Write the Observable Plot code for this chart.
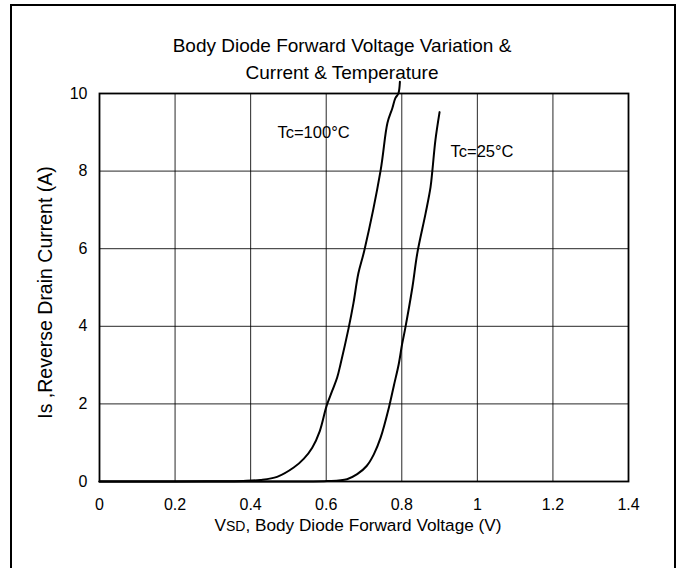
<!DOCTYPE html>
<html>
<head>
<meta charset="utf-8">
<script src="https://cdn.jsdelivr.net/npm/d3@7"></script>
<script src="https://cdn.jsdelivr.net/npm/@observablehq/plot@0.6"></script>
<style>
  html, body { margin: 0; padding: 0; background: #fff; overflow: hidden; }
  #wrap { position: relative; width: 682px; height: 568px; }
  #border { position: absolute; left: 10px; top: 4px; width: 666px; height: 620px; border: 2px solid #000; box-sizing: border-box; pointer-events: none; }
  #chart { position: absolute; left: 0; top: 0; }
</style>
</head>
<body>
<div id="wrap"><div id="chart"></div><div id="border"></div></div>
<script>
// Tc = 100°C curve
const vsd100 = [0, 0.2, 0.3, 0.38, 0.426, 0.47, 0.514, 0.541, 0.563, 0.583, 0.601, 0.616, 0.629, 0.638, 0.659, 0.672, 0.685, 0.701, 0.744, 0.762, 0.775, 0.783, 0.791, 0.795];
const is100  = [0, 0, 0.005, 0.015, 0.04, 0.12, 0.36, 0.59, 0.87, 1.30, 1.95, 2.34, 2.68, 3.03, 3.94, 4.59, 5.36, 5.96, 8.02, 9.24, 9.62, 9.88, 10.0, 10.3];
// Tc = 25°C curve
const vsd25 = [0, 0.3, 0.55, 0.602, 0.655, 0.682, 0.707, 0.726, 0.744, 0.766, 0.779, 0.792, 0.801, 0.808, 0.828, 0.841, 0.863, 0.876, 0.881, 0.889, 0.9];
const is25  = [0, 0, 0, 0.01, 0.06, 0.19, 0.40, 0.70, 1.13, 1.91, 2.47, 3.03, 3.55, 3.89, 5.0, 5.88, 6.91, 7.58, 8.02, 8.80, 9.52];

const seriesNames = ["Tc=100°C", "Tc=25°C"];
const labelX = [0.471, 0.929];
const labelY = [9.0, 8.49];

const xTicks = [0, 0.2, 0.4, 0.6, 0.8, 1.0, 1.2, 1.4];
const yTicks = [0, 2, 4, 6, 8, 10];

const titleLines = ["Body Diode Forward Voltage Variation &", "Current & Temperature"];
const xLabel = "VSD, Body Diode Forward Voltage (V)";
const yLabel = "Is ,Reverse Drain Current (A)";

const rows = [
  ...vsd100.map((v, i) => ({series: seriesNames[0], v, i: is100[i]})),
  ...vsd25.map((v, i) => ({series: seriesNames[1], v, i: is25[i]}))
];
const labelRows = seriesNames.map((s, k) => ({s, x: labelX[k], y: labelY[k]}));

const font = "'Liberation Sans', Arial, Helvetica, sans-serif";

const chart = Plot.plot({
  width: 682,
  height: 568,
  marginLeft: 99,
  marginRight: 54,
  marginTop: 93,
  marginBottom: 87,
  style: {fontFamily: font, fontSize: "16px", color: "#000", background: "transparent", overflow: "visible"},
  x: {domain: [0, 1.4], label: null},
  y: {domain: [0, 10], label: null},
  marks: [
    Plot.gridX(xTicks, {stroke: "#000", strokeOpacity: 0.85, strokeWidth: 1}),
    Plot.gridY(yTicks, {stroke: "#000", strokeOpacity: 0.85, strokeWidth: 1}),
    Plot.frame({stroke: "#000", strokeWidth: 1.8}),
    Plot.axisX(xTicks, {tickSize: 0, tickPadding: 17, fontSize: 16, tickFormat: d => String(+d.toFixed(1)), label: null}),
    Plot.axisY(yTicks, {tickSize: 0, tickPadding: 12, fontSize: 16, label: null}),
    Plot.line(rows, {x: "v", y: "i", z: "series", stroke: "#000", strokeWidth: 2, curve: "catmull-rom"}),
    Plot.text(labelRows, {x: "x", y: "y", text: "s", textAnchor: "start", fontSize: 16.5}),
    Plot.text([titleLines.join("\n")], {frameAnchor: "top", dx: -22, dy: -15, lineAnchor: "bottom", lineHeight: 1.42, fontSize: 19}),
    Plot.text([xLabel], {frameAnchor: "bottom", dx: -6, dy: 44, lineAnchor: "middle", fontSize: 17.2, className: "xlab"}),
    Plot.text([yLabel], {frameAnchor: "left", textAnchor: "middle", dx: -54, dy: 5, rotate: -90, lineAnchor: "middle", fontSize: 19.5})
  ]
});
document.getElementById("chart").appendChild(chart);

// render "SD" of VSD smaller, as in the reference
d3.select(chart).selectAll("g.xlab text").each(function() {
  const t = d3.select(this);
  const s = t.text();
  if (s.startsWith("VSD")) {
    t.text(null);
    t.append("tspan").text("V");
    t.append("tspan").attr("font-size", 14).text("SD");
    t.append("tspan").text(s.slice(3));
  }
});
</script>
</body>
</html>
